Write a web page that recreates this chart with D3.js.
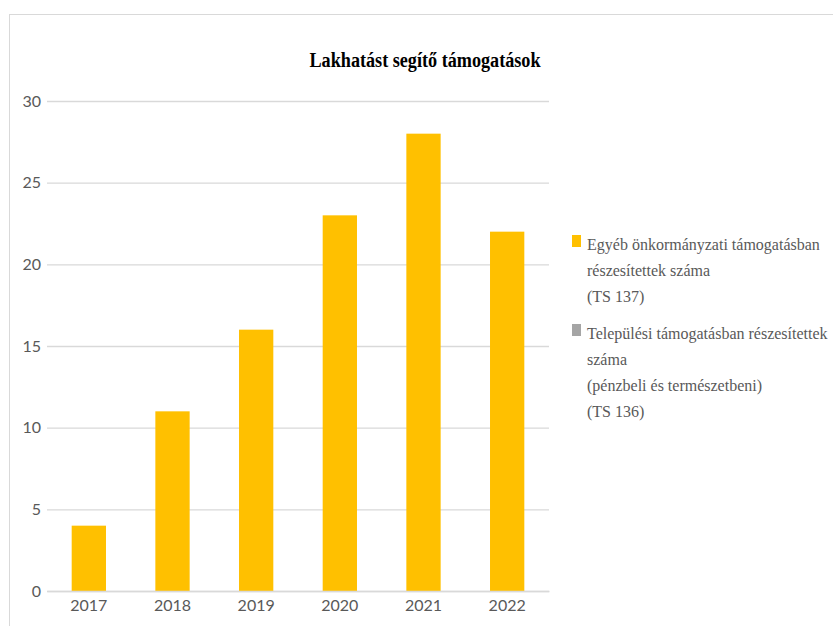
<!DOCTYPE html>
<html>
<head>
<meta charset="utf-8">
<script src="https://cdn.jsdelivr.net/npm/d3@7"></script>
<style>
  body { margin: 0; background: #fff; }
  svg { display: block; }
</style>
</head>
<body>
<div id="chart"></div>
<script>
// chart data
var years = ["2017", "2018", "2019", "2020", "2021", "2022"];
var egyebValues = [4, 11, 16, 23, 28, 22];      // TS 137
var telepulesiValues = [null, null, null, null, null, null]; // TS 136, no data shown
var yTicks = [0, 5, 10, 15, 20, 25, 30];
var legendLabels = [
  ["Egyéb önkormányzati támogatásban", "részesítettek száma", "(TS 137)"],
  ["Települési támogatásban részesítettek", "száma", "(pénzbeli és természetbeni)", "(TS 136)"]
];
var seriesColors = ["#ffc000", "#a5a5a5"];

// svg area
var svgWidth = 833;
var svgHeight = 626;

var margin = { top: 101, left: 47, width: 502, height: 490 };

var svg = d3.select("#chart")
  .append("svg")
  .attr("width", svgWidth)
  .attr("height", svgHeight);

// chart frame
svg.append("rect")
  .attr("x", 9.5)
  .attr("y", 14.5)
  .attr("width", 840)
  .attr("height", 640)
  .attr("fill", "#fff")
  .attr("stroke", "#d9d9d9")
  .attr("stroke-width", 1);

// title
svg.append("text")
  .attr("x", 425)
  .attr("y", 67)
  .attr("text-anchor", "middle")
  .attr("font-family", "'Liberation Serif', 'Times New Roman', serif")
  .attr("font-weight", "bold")
  .attr("font-size", "20px")
  .attr("textLength", 231)
  .attr("lengthAdjust", "spacingAndGlyphs")
  .attr("fill", "#000")
  .text("Lakhatást segítő támogatások");

var chartGroup = svg.append("g")
  .attr("transform", `translate(${margin.left}, ${margin.top})`);

// scales
var xScale = d3.scaleBand()
  .domain(years)
  .range([0, margin.width])
  .paddingInner(0.59)
  .paddingOuter(0.295);

var yScale = d3.scaleLinear()
  .domain([0, 30])
  .range([margin.height, 0]);

// gridlines + y labels
var yAxis = d3.axisLeft(yScale)
  .tickValues(yTicks)
  .tickSize(-margin.width)
  .tickPadding(6);

var yG = chartGroup.append("g").call(yAxis);
yG.select(".domain").remove();
yG.selectAll(".tick line")
  .attr("stroke", "#d9d9d9")
  .attr("stroke-width", 1.3);
yG.selectAll(".tick text")
  .attr("x", -6)
  .attr("fill", "#595959")
  .attr("font-family", "Lato, 'Open Sans', sans-serif")
  .attr("font-size", "16px");

// bars
chartGroup.selectAll(".bar")
  .data(years.map((y, i) => ({ year: y, value: egyebValues[i] })))
  .enter()
  .append("rect")
  .attr("class", "bar")
  .attr("x", d => xScale(d.year))
  .attr("width", xScale.bandwidth())
  .attr("y", d => yScale(d.value))
  .attr("height", d => margin.height - yScale(d.value))
  .attr("fill", seriesColors[0]);

// x axis
var xAxis = d3.axisBottom(xScale).tickSize(0).tickPadding(9);
var xG = chartGroup.append("g")
  .attr("transform", `translate(0, ${margin.height})`)
  .call(xAxis);
xG.select(".domain")
  .attr("stroke", "#d9d9d9")
  .attr("stroke-width", 1.3);
xG.selectAll(".tick text")
  .attr("fill", "#595959")
  .attr("font-family", "Lato, 'Open Sans', sans-serif")
  .attr("font-size", "16px");

// legend
var legendX = 572;
var legendStartY = [235, 324];
var lineHeight = 26;

legendLabels.forEach((lines, i) => {
  var g = svg.append("g")
    .attr("transform", `translate(${legendX}, ${legendStartY[i]})`);
  g.append("rect")
    .attr("width", 9)
    .attr("height", 12)
    .attr("fill", seriesColors[i]);
  var t = g.append("text")
    .attr("x", 15)
    .attr("y", 15)
    .attr("font-family", "'Liberation Serif', 'Times New Roman', serif")
    .attr("font-size", "16px")
    .attr("fill", "#595959");
  lines.forEach((line, j) => {
    t.append("tspan")
      .attr("x", 15)
      .attr("dy", j === 0 ? 0 : lineHeight)
      .text(line);
  });
});
</script>
</body>
</html>
